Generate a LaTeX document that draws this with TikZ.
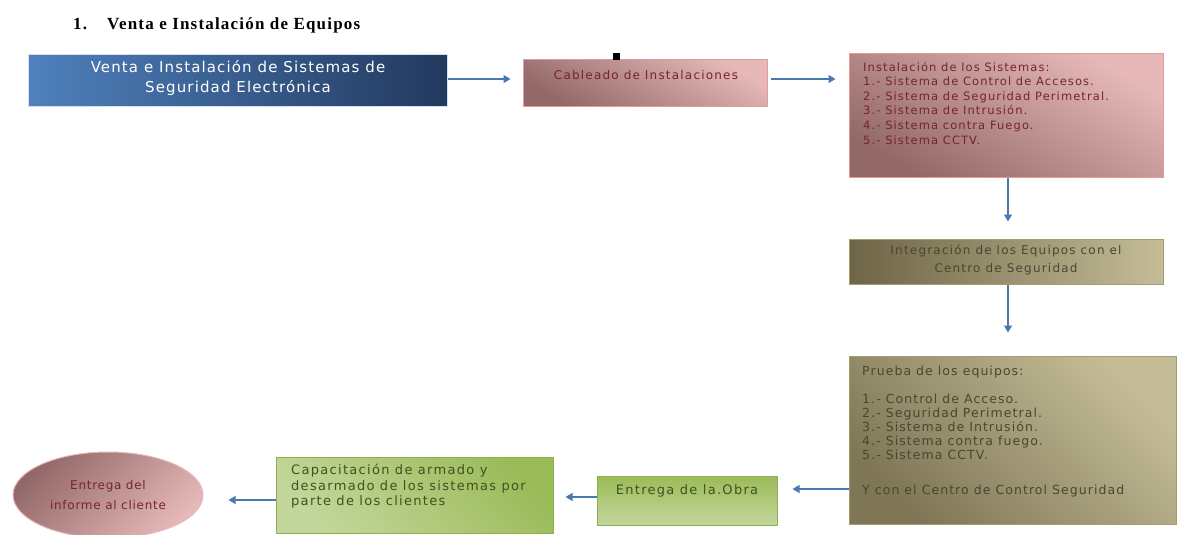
\documentclass[tikz,border=0pt]{standalone}
\usepackage{fontspec}
\setmainfont{DejaVu Sans}
\newfontfamily\titlefont{Liberation Serif}[LetterSpace=7]
\newfontfamily\boxfontA{DejaVu Sans}[LetterSpace=7.5]
\newfontfamily\boxfontB{DejaVu Sans}[LetterSpace=9.5]
\newfontfamily\boxfontC{DejaVu Sans}[LetterSpace=10]
\newfontfamily\boxfontD{DejaVu Sans}[LetterSpace=8.5]
\newfontfamily\boxfontE{DejaVu Sans}[LetterSpace=6]
\usetikzlibrary{arrows.meta,shapes.geometric}
\definecolor{arrowblue}{HTML}{4A78B0}
\definecolor{bluelight}{HTML}{4F81BD}
\definecolor{bluedark}{HTML}{22395E}
\definecolor{pinklight}{HTML}{E6B9B8}
\definecolor{pinkdark}{HTML}{936869}
\definecolor{pinkborder}{HTML}{E49C9B}
\definecolor{pinktext}{HTML}{762626}
\definecolor{olivelight}{HTML}{C4BD97}
\definecolor{olivedark}{HTML}{6E6446}
\definecolor{oliveborder}{HTML}{A39C6E}
\definecolor{olivetext}{HTML}{4B4632}
\definecolor{greenmid}{HTML}{9BBB59}
\definecolor{greenlight}{HTML}{C3D69B}
\definecolor{greenborder}{HTML}{8DAF4C}
\definecolor{greentext}{HTML}{3F5220}
\tikzset{
  boxbase/.style={draw, line width=1pt, inner sep=0pt, rectangle},
  bluebox/.style={boxbase, draw=white!75!bluelight, left color=bluelight, right color=bluedark},
  pinkbox/.style={boxbase, draw=pinkborder, top color=pinklight, bottom color=pinkdark, shading angle=-30},
  olivebox/.style={boxbase, draw=oliveborder, left color=olivedark, right color=olivelight},
  olivebox2/.style={boxbase, draw=oliveborder, top color=olivelight, bottom color=olivedark!80!olivelight, shading angle=-45},
  greenbox/.style={boxbase, draw=greenborder, top color=greenmid, bottom color=greenlight},
  greenbox2/.style={boxbase, draw=greenborder, top color=greenmid, bottom color=greenlight, shading angle=-45},
  ovalbox/.style={ellipse, draw=pinklight, line width=1pt, inner sep=0pt, top color=pinkdark, bottom color=pinklight, shading angle=45},
  arr/.style={draw=arrowblue, line width=1.4pt, -{Triangle[length=7pt,width=8pt]}},
  txt/.style={inner sep=0pt},
  titletxt/.style={anchor=base west, inner sep=0pt, font=\titlefont\bfseries\fontsize{17}{19}\selectfont},
}
\begin{document}
\begin{tikzpicture}[x=1pt,y=-1pt]
\useasboundingbox (0,0) rectangle (1177,535);
% title
\node[titletxt] (ttl1) at (73,30) {1.};
\node[titletxt] (ttl2) at (107,30) {Venta e Instalación de Equipos};
% boxes
\node[bluebox, minimum width=419pt, minimum height=51pt] (b1) at (237.5,80.5) {};
\node[pinkbox, minimum width=244pt, minimum height=46pt] (b2) at (645,83) {};
\node[pinkbox, minimum width=314pt, minimum height=123pt] (b3) at (1006,115.5) {};
\node[olivebox, minimum width=314pt, minimum height=45pt] (b4) at (1006,261.5) {};
\node[olivebox2, minimum width=327pt, minimum height=168pt] (b5) at (1012.5,440) {};
\node[greenbox, minimum width=180pt, minimum height=49pt] (b6) at (687,500.5) {};
\node[greenbox2, minimum width=277pt, minimum height=76pt] (b7) at (414.5,495) {};
\node[ovalbox, minimum width=190pt, minimum height=86pt] (e) at (108,495) {};
\fill (613,53) rectangle (620,60);
% texts
\node[txt, text=white, align=center, font=\boxfontA\fontsize{15}{20}\selectfont] (t1) at (238,78) {Venta e Instalación de Sistemas de\\Seguridad Electrónica};
\node[txt, text=pinktext, font=\boxfontC\fontsize{12}{14.5}\selectfont] (t2) at (646,75) {Cableado de Instalaciones};
\node[txt, text=pinktext, align=left, anchor=north west, font=\boxfontB\fontsize{11.5}{14.5}\selectfont] (t3) at (863,62) {Instalación de los Sistemas:\\1.- Sistema de Control de Accesos.\\2.- Sistema de Seguridad Perimetral.\\3.- Sistema de Intrusión.\\4.- Sistema contra Fuego.\\[1pt]5.- Sistema CCTV.};
\node[txt, text=olivetext, align=center, font=\boxfontC\fontsize{12}{17.5}\selectfont] (t4) at (1006,260) {Integración de los Equipos con el\\Centro de Seguridad};
\node[txt, text=olivetext, align=left, anchor=north west, font=\boxfontD\fontsize{12.5}{14}\selectfont] (t5) at (862,366) {Prueba de los equipos:\\[14pt]1.- Control de Acceso.\\2.- Seguridad Perimetral.\\3.- Sistema de Intrusión.\\4.- Sistema contra fuego.\\5.- Sistema CCTV.\\[21pt]Y con el Centro de Control Seguridad};
\node[txt, text=greentext, font=\boxfontC\fontsize{13}{14.5}\selectfont] (t6) at (687,491) {Entrega de la.Obra};
\node[txt, text=greentext, align=left, anchor=north west, font=\boxfontC\fontsize{13}{15.5}\selectfont] (t7) at (291,464) {Capacitación de armado y\\desarmado de los sistemas por\\parte de los clientes};
\node[txt, text=pinktext, align=center, font=\boxfontE\fontsize{12}{20}\selectfont] (t8) at (108,495) {Entrega del\\informe al cliente};
% connectors
\draw[arr, shorten >=12pt] ([yshift=1.5pt]b1.east) -- ([yshift=4pt]b2.west);
\draw[arr, shorten <=3pt, shorten >=13pt] ([yshift=4pt]b2.east) -- ([yshift=36.5pt]b3.west);
\draw[arr, shorten >=17pt] ([xshift=2pt]b3.south) -- ([xshift=2pt]b4.north);
\draw[arr, shorten >=23pt] ([xshift=2pt]b4.south) -- ([xshift=-4.5pt]b5.north);
\draw[arr, shorten >=15pt] ([yshift=-49pt]b5.west) -- ([yshift=11.5pt]b6.east);
\draw[arr, shorten >=12pt] ([yshift=3.5pt]b6.west) -- ([yshift=-2pt]b7.east);
\draw[arr, shorten >=25pt] ([yshift=-5pt]b7.west) -- ([yshift=-5pt]e.east);
\end{tikzpicture}
\end{document}
